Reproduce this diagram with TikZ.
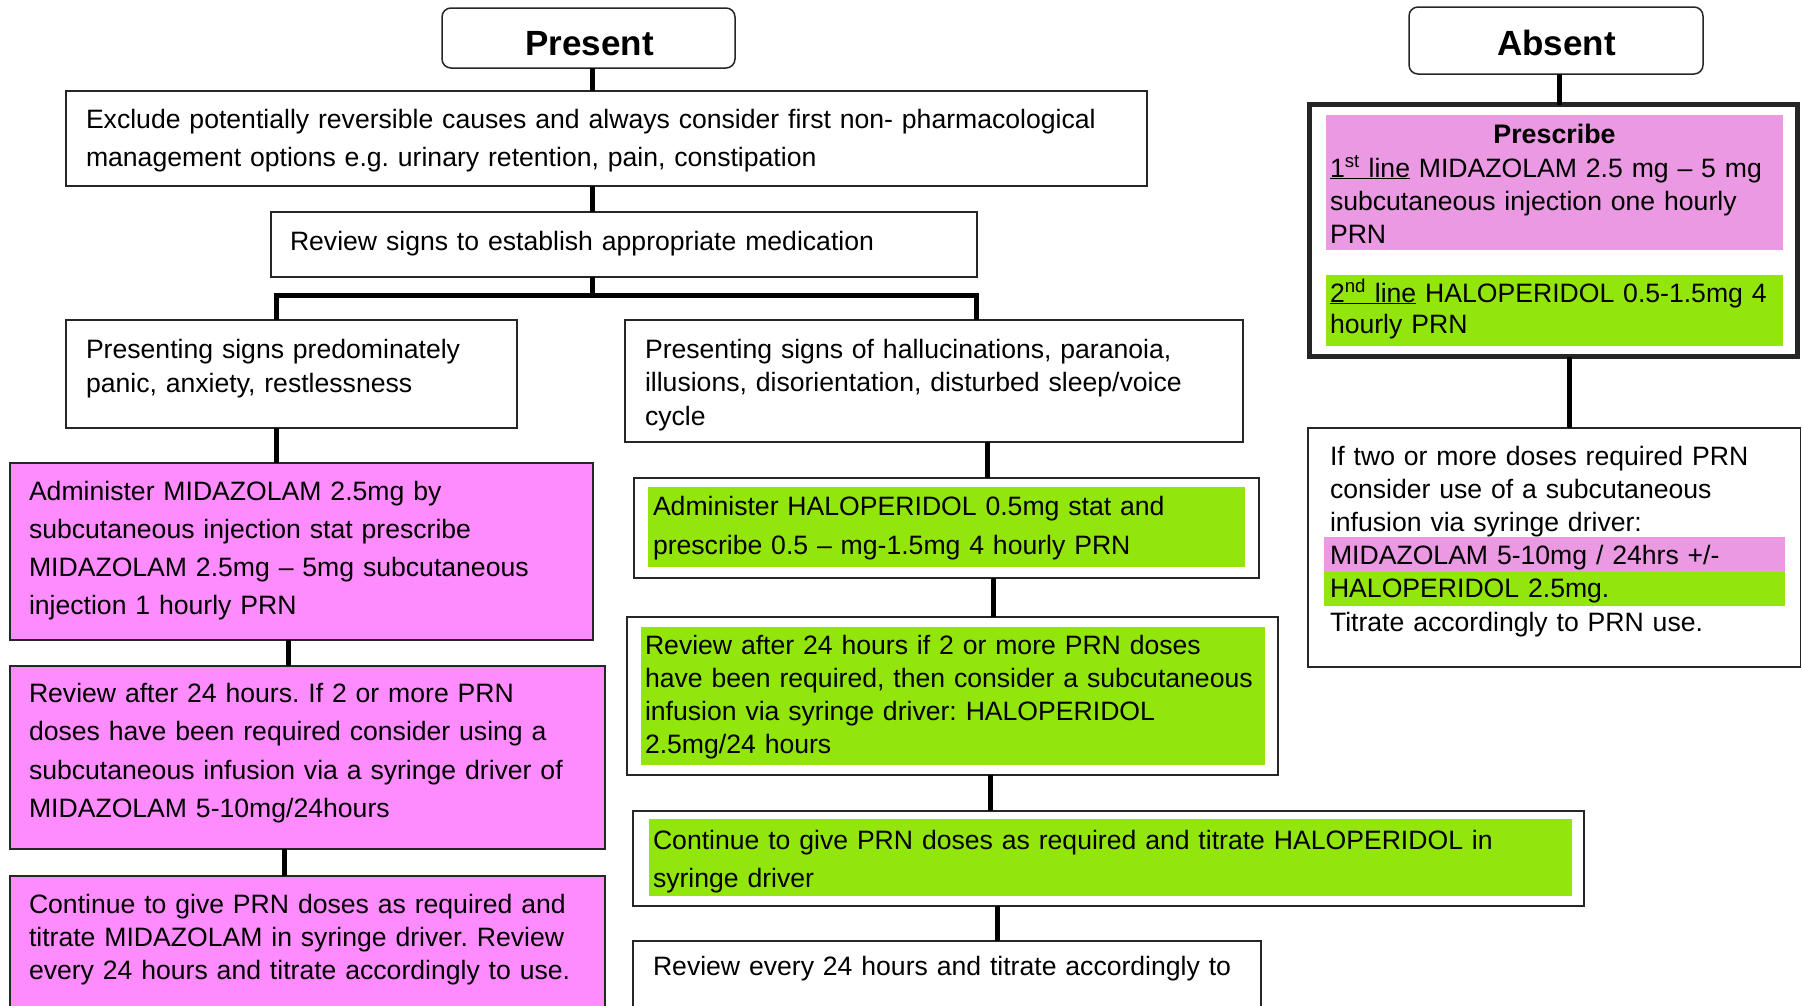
\documentclass[tikz,border=0pt]{standalone}
\usepackage{fontspec}
\setmainfont{Liberation Sans}
\usetikzlibrary{fit,calc}
\definecolor{mpink}{HTML}{FF8CFF}
\definecolor{ppink}{HTML}{EA99E2}
\definecolor{lgreen}{HTML}{93E60B}
\newcommand\fsz[1]{\fontsize{26.6}{#1}\selectfont}
\newcommand\titlefont{\fontsize{35}{40}\selectfont\bfseries}
\newcommand\bfont{\fontsize{26.8}{32}\selectfont\bfseries}
\frenchspacing
\hyphenpenalty=10000
\begin{document}
\begin{tikzpicture}[x=1pt,y=-1pt,
  box/.style={draw=black!85, line width=1.5pt, inner sep=0pt, outer sep=0pt, rectangle},
  rbox/.style={box, rounded corners=9pt},
  conn/.style={draw=black, line width=5pt},
  txt/.style={inner sep=0pt, outer sep=0pt, anchor=base west, align=left, text width=1600pt, font=\fsz{38.5}},
  ttl/.style={inner sep=0pt, outer sep=0pt, anchor=base, font=\titlefont}]

\clip (0,0) rectangle (1802,1005);
\fill[white] (0,0) rectangle (1802,1005);

% boxes
\node[rbox, fit={(442,8) (735,68)}] (present) {};
\node[rbox, fit={(1409,7) (1703,74)}] (absent) {};
\node[box, fit={(66,91) (1147,186)}] (exclude) {};
\node[box, fit={(271,212) (977,277)}] (review) {};
\node[box, fit={(66,320) (517,428)}] (panic) {};
\node[box, fit={(625,320) (1243,442)}] (halluc) {};
\node[box, fill=mpink, fit={(10,463) (593,640)}] (mida1) {};
\node[box, fill=mpink, fit={(10,666) (605,849)}] (mida2) {};
\node[box, fill=mpink, fit={(10,876) (605,1030)}] (mida3) {};
\node[box, fit={(634,478) (1259,578)}] (halo1) {};
\node[box, fit={(627,617) (1278,775)}] (halo2) {};
\node[box, fit={(633,811) (1584,906)}] (halo3) {};
\node[box, fit={(633,941) (1261,1030)}] (review24) {};
\node[box, line width=5pt, fit={(1309.5,104.5) (1797.5,356.5)}] (prescribe) {};
\node[box, fit={(1308,428) (1800.5,667)}] (infusion) {};

% coloured bands
\fill[lgreen] (648,487) rectangle (1245,567);
\fill[lgreen] (641,627) rectangle (1265,765);
\fill[lgreen] (649,819) rectangle (1572,896);
\fill[ppink] (1326,115) rectangle (1783,250);
\fill[lgreen] (1326,275) rectangle (1783,346);
\fill[ppink] (1324,537) rectangle (1785,572);
\fill[lgreen] (1324,572) rectangle (1785,606);

% connector positions
\coordinate (bY) at (0,295);
\coordinate (xC) at (592,0);
\coordinate (xL) at (276.5,0);
\coordinate (xR) at (976,0);
\coordinate (xP1) at (288,0);
\coordinate (xP2) at (284,0);
\coordinate (xH0) at (987,0);
\coordinate (xH1) at (993,0);
\coordinate (xH2) at (990,0);
\coordinate (xH3) at (997,0);
\coordinate (xA) at (1559,0);
\coordinate (xB) at (1569,0);

\draw[conn] (present.south -| xC) -- (exclude.north -| xC);
\draw[conn] (exclude.south -| xC) -- (review.north -| xC);
\draw[conn] (review.south -| xC) -- (xC |- bY);
\draw[conn] (panic.north -| xL) -- (xL |- bY) -- (xR |- bY) -- (halluc.north -| xR);
\draw[conn] (panic.south -| xL) -- (mida1.north -| xL);
\draw[conn] (mida1.south -| xP1) -- (mida2.north -| xP1);
\draw[conn] (mida2.south -| xP2) -- (mida3.north -| xP2);
\draw[conn] (halluc.south -| xH0) -- (halo1.north -| xH0);
\draw[conn] (halo1.south -| xH1) -- (halo2.north -| xH1);
\draw[conn] (halo2.south -| xH2) -- (halo3.north -| xH2);
\draw[conn] (halo3.south -| xH3) -- (review24.north -| xH3);
\draw[conn] (absent.south -| xA) -- (prescribe.north -| xA);
\draw[conn] (prescribe.south -| xB) -- (infusion.north -| xB);

% texts
\node[ttl] (present-t) at (589.5,55) {Present};
\node[ttl] (absent-t) at (1556.5,55) {Absent};
\node[txt, font=\fsz{38.5}] (exclude-t) at (86,128) {Exclude potentially reversible causes and always consider first non- pharmacological\\management options e.g. urinary retention, pain, constipation};
\node[txt] (review-t) at (290,250) {Review signs to establish appropriate medication};
\node[txt, font=\fsz{34.5}] (panic-t) at (86,358) {Presenting signs predominately\\panic, anxiety, restlessness};
\node[txt, font=\fsz{33.5}] (halluc-t) at (645,358) {Presenting signs of hallucinations, paranoia,\\illusions, disorientation, disturbed sleep/voice\\cycle};
\node[txt, font=\fsz{38.3}] (mida1-t) at (29,500) {Administer MIDAZOLAM 2.5mg by\\subcutaneous injection stat prescribe\\MIDAZOLAM 2.5mg – 5mg subcutaneous\\injection 1 hourly PRN};
\node[txt, font=\fsz{38.5}] (mida2-t) at (29,702) {Review after 24 hours. If 2 or more PRN\\doses have been required consider using a\\subcutaneous infusion via a syringe driver of\\MIDAZOLAM 5-10mg/24hours};
\node[txt, font=\fsz{33}] (mida3-t) at (29,913) {Continue to give PRN doses as required and\\titrate MIDAZOLAM in syringe driver. Review\\every 24 hours and titrate accordingly to use.};
\node[txt, font=\fsz{39}] (halo1-t) at (653,515) {Administer HALOPERIDOL 0.5mg stat and\\prescribe 0.5 – mg-1.5mg 4 hourly PRN};
\node[txt, font=\fsz{33.3}] (halo2-t) at (645,654) {Review after 24 hours if 2 or more PRN doses\\have been required, then consider a subcutaneous\\infusion via syringe driver: HALOPERIDOL\\2.5mg/24 hours};
\node[txt, font=\fsz{38}] (halo3-t) at (653,849) {Continue to give PRN doses as required and titrate HALOPERIDOL in\\syringe driver};
\node[txt] (review24-t) at (653,975) {Review every 24 hours and titrate accordingly to};
\node[ttl, font=\bfont] (prescribe-h) at (1554.5,143) {Prescribe};
\node[txt, font=\fsz{33}] (first-t) at (1330,177) {\underline{1\textsuperscript{st} line} MIDAZOLAM 2.5 mg – 5 mg\\subcutaneous injection one hourly\\PRN};
\node[txt, font=\fsz{31}] (second-t) at (1330,302) {\underline{2\textsuperscript{nd} line} HALOPERIDOL 0.5-1.5mg 4\\hourly PRN};
\node[txt, font=\fsz{33.2}] (infusion-t) at (1330,465) {If two or more doses required PRN\\consider use of a subcutaneous\\infusion via syringe driver:\\MIDAZOLAM 5-10mg / 24hrs +/-\\HALOPERIDOL 2.5mg.\\Titrate accordingly to PRN use.};
\end{tikzpicture}
\end{document}
